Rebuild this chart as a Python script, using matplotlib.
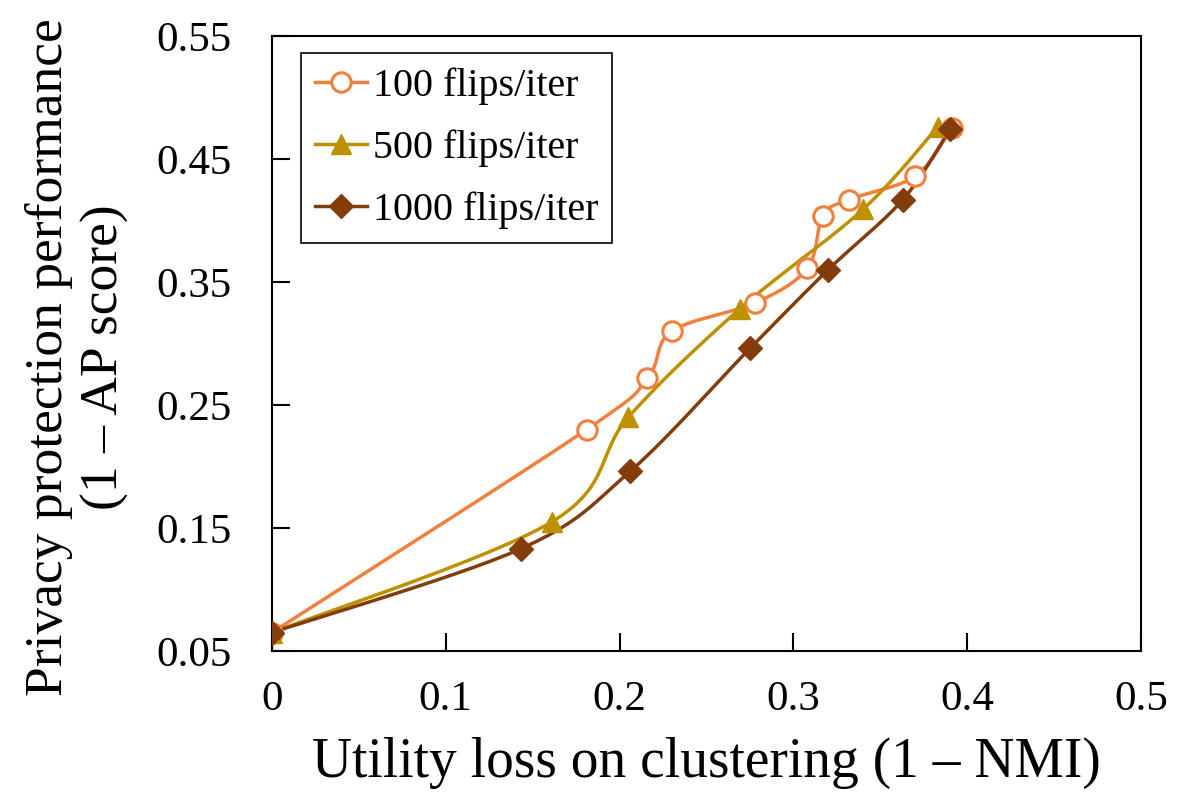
import numpy as np
import matplotlib
matplotlib.use("Agg")
import matplotlib.pyplot as plt
from matplotlib.lines import Line2D

plt.rcParams['font.family'] = ['Liberation Serif', 'DejaVu Serif']

# Data
x100 = [0.0, 0.181, 0.216, 0.230, 0.278, 0.308, 0.317, 0.332, 0.370, 0.391]
y100 = [0.065, 0.230, 0.272, 0.310, 0.333, 0.361, 0.404, 0.417, 0.436, 0.475]
x500 = [0.0, 0.161, 0.205, 0.269, 0.340, 0.383]
y500 = [0.065, 0.155, 0.240, 0.328, 0.409, 0.476]
x1000 = [0.0, 0.143, 0.206, 0.275, 0.320, 0.363, 0.390]
y1000 = [0.065, 0.133, 0.196, 0.296, 0.360, 0.417, 0.474]

labels = ['100 flips/iter', '500 flips/iter', '1000 flips/iter']
colors = ['#F0803C', '#BF9000', '#843C0C']

xticks = [0, 0.1, 0.2, 0.3, 0.4, 0.5]
xticklabels = ['0', '0.1', '0.2', '0.3', '0.4', '0.5']
yticks = [0.05, 0.15, 0.25, 0.35, 0.45, 0.55]
yticklabels = ['0.05', '0.15', '0.25', '0.35', '0.45', '0.55']


def smooth(xs, ys, n=30):
    """Catmull-Rom style smoothing curve passing through the data points."""
    P = np.column_stack([xs, ys]).astype(float)
    m = len(P)
    out = [P[0]]
    for i in range(m - 1):
        p0 = P[i - 1] if i > 0 else P[i]
        p1 = P[i]
        p2 = P[i + 1]
        p3 = P[i + 2] if i + 2 < m else P[i + 1]
        c1 = p1 + (p2 - p0) / 6.0
        c2 = p2 - (p3 - p1) / 6.0
        t = np.linspace(0, 1, n)[1:, None]
        seg = ((1 - t) ** 3) * p1 + 3 * ((1 - t) ** 2) * t * c1 + 3 * (1 - t) * t ** 2 * c2 + t ** 3 * p2
        out.extend(seg)
    out = np.array(out)
    return out[:, 0], out[:, 1]


fig = plt.figure(figsize=(11.96, 8.11), dpi=100)
ax = fig.add_axes([272 / 1196, 1 - 651 / 811, (1141 - 272) / 1196, (651 - 36) / 811])

lw = 2.5
series = [(x100, y100, 'o', dict(markerfacecolor='white', markersize=14, markeredgewidth=2.2)),
          (x500, y500, '^', dict(markersize=15)),
          (x1000, y1000, 'D', dict(markersize=12))]
handles = []
for (xs, ys, mk, kw), c, lab in zip(series, colors, labels):
    sx, sy = smooth(xs, ys)
    ax.plot(sx, sy, color=c, lw=lw, zorder=2)
    ax.plot(xs, ys, linestyle='none', marker=mk, color=c, markeredgecolor=c, zorder=3, **kw)
    handles.append(Line2D([], [], color=c, lw=lw, marker=mk, markeredgecolor=c, **kw))

ax.set_xlim(0, 0.5)
ax.set_ylim(0.05, 0.55)
ax.set_xticks(xticks)
ax.set_xticklabels(xticklabels)
ax.set_yticks(yticks)
ax.set_yticklabels(yticklabels)
ax.tick_params(direction='in', length=13, width=1.5, labelsize=31,
               top=False, right=False)
ax.tick_params(axis='x', pad=21)
ax.tick_params(axis='y', pad=29)
for s in ax.spines.values():
    s.set_linewidth(1.5)

ax.set_xlabel('Utility loss on clustering (1 – NMI)', fontsize=40, labelpad=13)
fig.text(77 / 1196, 1 - 357 / 811, 'Privacy protection performance\n(1 – AP score)',
         rotation=90, ha='center', va='center', fontsize=38.5, multialignment='center',
         linespacing=1.2)

leg = ax.legend(handles, labels, loc='upper left', bbox_to_anchor=(29 / 869, 1 - 17 / 615),
                fontsize=28.8, frameon=True, fancybox=False, edgecolor='black', framealpha=1,
                borderaxespad=0, handlelength=1.3, handletextpad=0.15, labelspacing=0.62,
                borderpad=0.35)
leg.get_frame().set_linewidth(1.2)

fig.savefig('out.png', dpi=100, facecolor='white')
